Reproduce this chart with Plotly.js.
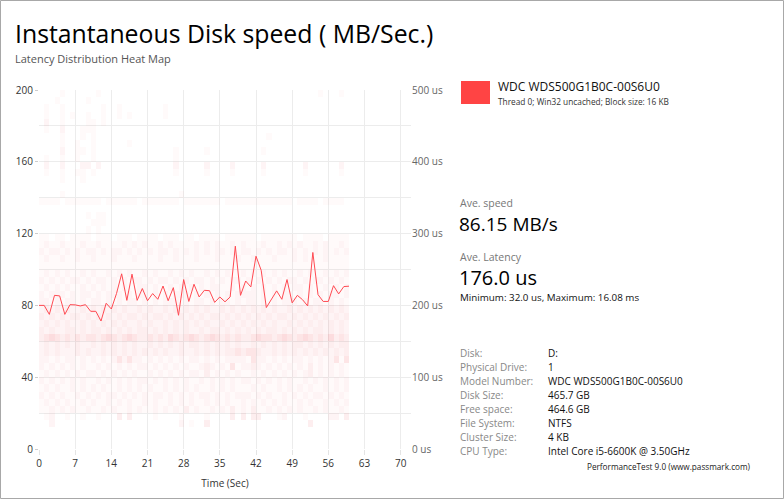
<!DOCTYPE html>
<html>
<head>
<meta charset="utf-8">
<script src="https://cdn.plot.ly/plotly-3.0.1.min.js"></script>
<style>
html,body{margin:0;padding:0;background:#fff;}
#chart{width:784px;height:499px;}
</style>
</head>
<body>
<div id="chart"></div>
<script>
// ---- Data ----
const timeSec = [0,1,2,3,4,5,6,7,8,9,10,11,12,13,14,15,16,17,18,19,20,21,22,23,24,25,26,27,28,29,30,31,32,33,34,35,36,37,38,39,40,41,42,43,44,45,46,47,48,49,50,51,52,53,54,55,56,57,58,59,60];
const speedMBs = [80,80,75,85.6,85.3,75,80.4,80.3,79.7,80.4,76.7,76.7,71.3,81.2,78,86.6,97.6,82.8,97.4,82.8,89.4,82.6,86.6,83.4,90.8,82.6,89.9,74.5,94.4,82.2,91.8,84.7,88.4,88.2,81.7,84.7,82,84.7,113,85.6,93.6,90.3,107.4,99.6,78.8,83.8,88.1,83.4,94.4,81.4,85.6,83.2,79.7,109.5,86,82.2,82.2,91,86.4,90.5,90.7];

// latency bins (us, lower edge), 10 us each; heat rows listed from top (490 us) to bottom (0 us)
const latencyBinUs = [490,480,470,460,450,440,430,420,410,400,390,380,370,360,350,340,330,320,310,300,290,280,270,260,250,240,230,220,210,200,190,180,170,160,150,140,130,120,110,100,90,80,70,60,50,40,30,20,10,0];
const heatRows = [
"0000100000 0100000000 0000000000 0000000000 0000000000 0000100010",
"0001000001 0000000000 0000000000 0000000000 0000000000 0000000000",
"0100100000 0010010000 0000100000 0000000000 0000000000 0000000000",
"0100101001 0010010100 0000100000 0000000000 0000000000 0000000000",
"0200100001 1010000000 0000000000 0000000000 0000000000 0000000000",
"0100200011 1000000000 0000000000 0000000000 0000000000 0000000000",
"0000100010 1000000000 0000000000 0000000000 0000100000 0000000000",
"0000100100 1000000100 0000000000 0000000000 0000000000 0000000000",
"0000200110 1000000000 0000001000 0010000000 0001000000 0000000000",
"0100100100 1000000000 0000001000 0000000000 0000000000 0000000000",
"0200200022 0200000000 0000002000 0020000200 0002000000 0200000020",
"0100100110 1000000000 0000001000 0010000100 0001000000 0100000010",
"0000100010 0000000000 0000000000 0000000000 0000000000 0000000000",
"0000000000 0000000000 0000000000 0000000000 0000000000 0000000000",
"0000100000 0000000000 0000000100 0000000000 0000000000 0000000000",
"1111011111 1101111110 1111111011 1111101111 1111111110 1111011110",
"0000000000 0000000000 0000000000 0000000000 0000000000 0000000000",
"0000000001 0110000000 0000000000 0000000000 0000000000 0000000000",
"0000000000 1110000000 0000000000 0000000000 0000000000 0000000000",
"0000000001 0100000000 0000000000 0000000000 0000000000 0000000000",
"1101101111 0111011101 1110111011 0111101111 1101111111 0111101111",
"1211211121 1211112121 2112121111 2121211212 1112112121 2112121121",
"2122121212 2121221212 1212212121 2121221212 2121212212 1212121212",
"1211211211 2111211121 1112112111 2111211121 1211121112 1211121111",
"1111111111 1111111111 1111111111 1111111111 1111111111 1111111111",
"1212121121 2112121211 2121121212 1121212112 1212121211 2121121212",
"2121212212 1221212122 1212212121 2212121221 2121212122 1212212121",
"1212121121 2121212112 2121121212 1212211212 1212121212 2121121212",
"2122212122 1212221212 2121212221 2121212122 2212121221 2121212212",
"2212122121 2212121221 2121222121 2212122121 2212121222 1212212121",
"2323232232 3232323223 2322323232 3232232323 2323232232 3232323232",
"3232323323 2323232332 3233232323 2323323232 3232323323 2323232323",
"2323232232 3232323223 2322323232 3232232323 2323232232 3232323232",
"3232233232 3323232323 3232323232 2323323232 3232332323 2323323232",
"3454343434 4345434543 3434354345 4345434343 3454434543 4543435343",
"2323232322 3232323232 2323232323 3232323232 2323232323 3232323233",
"2323222323 2232323232 3232322322 3232323343 4432232323 2323232323",
"2212122121 2121242422 1212121212 2121212222 1422121212 2121212414",
"2121212121 1212121212 2121212121 1232121412 2321212121 2131212121",
"1212121212 2121212121 1212121212 2131212121 1212121212 1231212121",
"2121212121 1212121212 2121212121 1212121212 2121212121 1212121212",
"1212112121 2121121212 1211212121 2112121211 1212112121 2121121212",
"2121211212 1212212121 2122121212 1221212122 2121211212 1212212121",
"1212121121 2112121211 2121121212 1121212112 1212121211 2121121212",
"1121212112 1121211212 1121212131 2112121312 1311212121 2112121121",
"0120010010 0100030300 0010000100 0010000303 0330001200 0100002203",
"0020000000 0000000000 0000000201 0030000000 0000000000 0030000000",
"0000000000 0000000000 0000000000 0000000000 0000000000 0000000000",
"0000000000 0000000000 0000000000 0000000000 0000000000 0000000000",
"0000000000 0000000000 0000000000 0000000000 0000000000 0000000000"
];

const infoLabels = ["Disk:","Physical Drive:","Model Number:","Disk Size:","Free space:","File System:","Cluster Size:","CPU Type:"];
const infoValues = ["D:","1","WDC WDS500G1B0C-00S6U0","465.7 GB","464.6 GB","NTFS","4 KB","Intel Core i5-6600K @ 3.50GHz"];

const xTicks = [0,7,14,21,28,35,42,49,56,63,70];
const speedTicks = [0,40,80,120,160,200];
const latencyTicks = [0,100,200,300,400,500];
const latencyMinorGrid = [50,150,250,350,450];

// ---- Build ----
const z = heatRows.map(r => r.replace(/ /g,'').split('').map(Number));
const zRows = z.slice().reverse();
const yCenters = latencyBinUs.slice().reverse().map(v => v + 5);
const xCenters = z[0].map((_, i) => timeSec[i] + 0.5);

const W = 784, H = 499, ML = 39, MR = 373, MT = 90, MB = 50;
const PW = W - ML - MR, PH = H - MT - MB;
const px = x => (x - ML) / PW;
const py = y => (H - MB - y) / PH;

const FONT = '"Open Sans", "Noto Sans", sans-serif';
const A = 'rgba(235,40,50,';
const colorscale = [[0, A+'0)'], [1/6, A+'0.025)'], [2/6, A+'0.05)'], [3/6, A+'0.08)'], [4/6, A+'0.12)'], [5/6, A+'0.16)'], [1, A+'0.2)']];

const traces = [
  {type:'heatmap', x:xCenters, y:yCenters, z:zRows, zmin:0, zmax:6, colorscale:colorscale, showscale:false, xaxis:'x', yaxis:'y', hoverinfo:'skip'},
  {type:'scatter', mode:'lines', x:timeSec, y:speedMBs, xaxis:'x', yaxis:'y2', line:{color:'#ff4a52', width:1}, hoverinfo:'skip'}
];

function ann(x, y, text, size, color, extra) {
  return Object.assign({xref:'paper', yref:'paper', x:px(x), y:py(y), xanchor:'left', yanchor:'middle', text:text, showarrow:false, font:{family:FONT, size:size, color:color}}, extra||{});
}
const annotations = [
  ann(13, 58, 'Latency Distribution Heat Map', 11, '#555'),
  ann(496, 87, 'WDC WDS500G1B0C-00S6U0', 12, '#111'),
  ann(496, 101, 'Thread 0; Win32 uncached; Block size: 16 KB', 8.3, '#333'),
  ann(458, 203, 'Ave. speed', 10.5, '#777'),
  ann(457, 224, '86.15 MB/s', 19, '#000'),
  ann(458, 257, 'Ave. Latency', 10.5, '#777'),
  ann(457, 277, '176.0 us', 20, '#000'),
  ann(458, 297, 'Minimum: 32.0 us, Maximum: 16.08 ms', 9.8, '#111'),
  ann(585, 466, 'PerformanceTest 9.0 (www.passmark.com)', 8.2, '#222')
];
const rowY = [353, 367, 381, 395, 409, 423, 437, 451];
infoLabels.forEach((t, i) => annotations.push(ann(458, rowY[i], t, 10, '#888')));
infoValues.forEach((t, i) => annotations.push(ann(546, rowY[i], t, 10, '#111')));

const shapes = [
  {type:'rect', xref:'paper', yref:'paper', x0:px(461), x1:px(490), y0:py(81), y1:py(104), fillcolor:'#ff4444', line:{width:0}},
  {type:'rect', xref:'paper', yref:'paper', x0:px(0.5), x1:px(783.5), y0:py(0.5), y1:py(498.5), line:{color:'#a8a8a8', width:1}, fillcolor:'rgba(0,0,0,0)'}
];

const layout = {
  width:W, height:H,
  margin:{l:ML, r:MR, t:MT, b:MB, pad:0},
  paper_bgcolor:'#fff', plot_bgcolor:'#fff',
  showlegend:false,
  font:{family:FONT, size:10, color:'#333'},
  title:{text:'Instantaneous Disk speed ( MB/Sec.)', x:15/W, xref:'container', xanchor:'left', y:1-34/H, yref:'container', yanchor:'middle', font:{family:FONT, size:24.8, color:'#000'}},
  xaxis:{range:[0,72], tickvals:xTicks, showgrid:true, gridcolor:'#ececec', gridwidth:1, zeroline:false, ticks:'outside', ticklen:5, tickcolor:'#e4e4e4', tickfont:{size:10, color:'#333'}, title:{text:'Time (Sec)', font:{size:10, color:'#333'}, standoff:10}, fixedrange:true},
  yaxis:{range:[0,500], side:'right', tickvals:latencyTicks, ticktext:latencyTicks.map(v => v + ' us'), showgrid:true, gridcolor:'#ececec', zeroline:false, ticks:'', tickfont:{size:10, color:'#666'}, minor:{tickvals:latencyMinorGrid, showgrid:true, gridcolor:'#ececec', ticks:''}, fixedrange:true},
  yaxis2:{range:[0,200], overlaying:'y', side:'left', tickvals:speedTicks, showgrid:false, zeroline:false, ticks:'outside', ticklen:3, tickcolor:'#cccccc', tickfont:{size:10, color:'#333'}, fixedrange:true},
  annotations:annotations,
  shapes:shapes
};

Plotly.newPlot('chart', traces, layout, {staticPlot:true, displayModeBar:false});
</script>
</body>
</html>
